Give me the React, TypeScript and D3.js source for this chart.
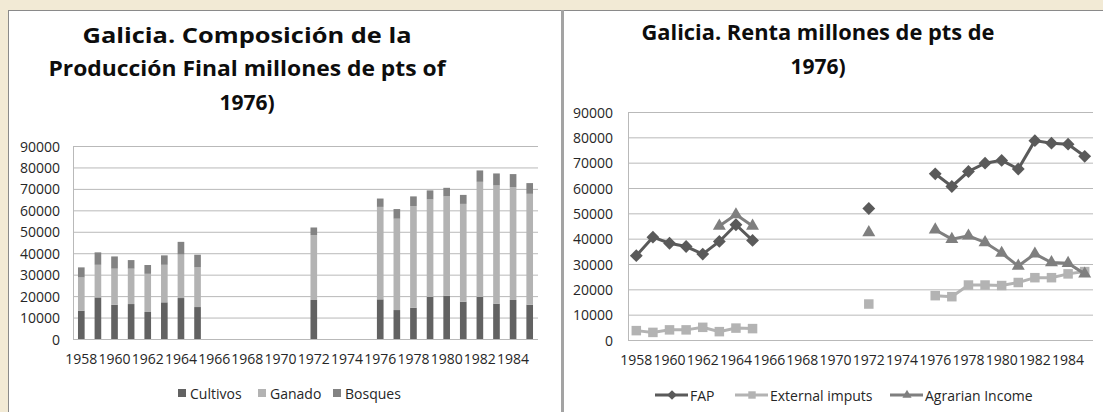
import React from "react";
import * as d3 from "d3";

const years = d3.range(1958, 1986).map(String);
const tickYears = d3.range(1958, 1986, 2).map(String);
const yTicks = d3.range(0, 90001, 10000);

// left chart: stacked parts (millones de pts 1976)
const cultivos = [13200, 19400, 16000, 16300, 12600, 17100, 19100, 14900, null, null, null, null, null, null, 18200, null, null, null, 18500, 13500, 14600, 19600, 20200, 17400, 19600, 16500, 18200, 16000];
const ganado = [15500, 15200, 16800, 16500, 17800, 17500, 20300, 18500, null, null, null, null, null, null, 30200, null, null, null, 43100, 42600, 47400, 45500, 46300, 45600, 53700, 55100, 52600, 51700];
const bosques = [4700, 5800, 5700, 4000, 4100, 4400, 5900, 5900, null, null, null, null, null, null, 3600, null, null, null, 3900, 4500, 4500, 4200, 4000, 4200, 5300, 5600, 6100, 5000];

// right chart: income series
const fap = [33300, 40600, 38200, 36900, 33900, 38900, 45500, 39300, null, null, null, null, null, null, 51900, null, null, null, 65600, 60600, 66500, 69800, 70900, 67500, 78700, 77700, 77300, 72500];
const externalImputs = [3700, 3000, 4000, 4000, 5000, 3300, 4700, 4500, null, null, null, null, null, null, 14200, null, null, null, 17500, 17100, 21700, 21700, 21500, 22700, 24600, 24600, 26100, 27000];
const agrarianIncome = [null, null, null, null, null, 45000, 49500, 45000, null, null, null, null, null, null, 42400, null, null, null, 43500, 39800, 41100, 38500, 34300, 29200, 34000, 30600, 30300, 26100];

const barSeries = [
  { name: "Cultivos", values: cultivos, color: "#626262" },
  { name: "Ganado", values: ganado, color: "#b3b3b3" },
  { name: "Bosques", values: bosques, color: "#838383" },
];

const lineSeries = [
  { name: "FAP", values: fap, color: "#5a5a5a", marker: "diamond" },
  { name: "External imputs", values: externalImputs, color: "#b3b3b3", marker: "square" },
  { name: "Agrarian Income", values: agrarianIncome, color: "#7f7f7f", marker: "triangle" },
];

const FONT = "'Open Sans', 'Liberation Sans', sans-serif";
const GRID = "#b9b9b9";
const TXT = "#262626";

const markerPath = (type: string, size: number) => {
  if (type === "diamond") return d3.symbol(d3.symbolDiamond2, size)();
  if (type === "square") return d3.symbol(d3.symbolSquare2, size)();
  return d3.symbol(d3.symbolTriangle2, size)();
};

const Axes = ({ x, y, labelX, labelY }: any) => {
  const [x0, x1] = x.range();
  const [y0] = y.range();
  return (
    <g fontFamily={FONT} fontSize={14} fill={TXT}>
      {yTicks.map((t) => (
        <g key={t}>
          <line x1={x0} x2={x1} y1={y(t) + 0.5} y2={y(t) + 0.5} stroke={GRID} />
          <text x={labelX} y={y(t)} textAnchor="end" dominantBaseline="central">
            {t}
          </text>
        </g>
      ))}
      <line x1={x0 + 0.5} x2={x0 + 0.5} y1={y(90000)} y2={y0} stroke={GRID} />
      {tickYears.map((yr) => (
        <text key={yr} x={x(yr)! + x.bandwidth() / 2} y={labelY} textAnchor="middle">
          {yr}
        </text>
      ))}
    </g>
  );
};

const App = () => {
  // left chart scales
  const xL = d3.scaleBand().domain(years).range([73, 538]).padding(0);
  const yL = d3.scaleLinear().domain([0, 90000]).range([339, 146]);
  const barW = xL.bandwidth() * 0.4;

  const stacked = years.map((yr, i) => {
    let acc = 0;
    return barSeries.map((s) => {
      const v = s.values[i];
      if (v == null) return null;
      const seg = { yr, y0: acc, y1: acc + v, color: s.color };
      acc += v;
      return seg;
    });
  });

  // right chart scales
  const xR = d3.scaleBand().domain(years).range([628, 1093]).padding(0);
  const yR = d3.scaleLinear().domain([0, 90000]).range([340, 112]);
  const cx = (i: number) => xR(years[i])! + xR.bandwidth() / 2;

  const line = d3
    .line<number | null>()
    .defined((d) => d != null)
    .x((_, i) => cx(i))
    .y((d) => yR(d as number));

  const leftLegend = [
    { x: 178, label: "Cultivos" },
    { x: 258, label: "Ganado" },
    { x: 333, label: "Bosques" },
  ];
  const rightLegend = [655, 735, 890];
  const markerSize = (m: string) => (m === "square" ? 115 : m === "triangle" ? 120 : 105);

  return (
    <svg width={1103} height={412} style={{ position: "absolute", left: 0, top: 0 }}>
      <rect width={1103} height={412} fill="#f2ead5" />
      <rect x={8.5} y={10.5} width={553} height={410} fill="#ffffff" stroke="#8a8a8a" />
      <rect x={562.5} y={10.5} width={560} height={410} fill="#ffffff" stroke="#8a8a8a" />
      <line x1={562.5} x2={562.5} y1={10} y2={412} stroke="#a3a3a3" strokeWidth={3} />

      {/* left title */}
      <g fontFamily={FONT} fontWeight="bold" fontSize={21} fill="#0d0d0d" textAnchor="middle">
        <text x={247} y={43} textLength={329} lengthAdjust="spacingAndGlyphs">
          Galicia. Composición de la
        </text>
        <text x={247} y={76} textLength={397} lengthAdjust="spacingAndGlyphs">
          Producción Final millones de pts of
        </text>
        <text x={247} y={110}>1976)</text>
      </g>
      <Axes x={xL} y={yL} labelX={60} labelY={364} />
      {stacked.map((segs) =>
        segs.map((s, j) =>
          s ? (
            <rect
              key={s.yr + j}
              x={xL(s.yr)! + (xL.bandwidth() - barW) / 2}
              y={yL(s.y1)}
              width={barW}
              height={yL(s.y0) - yL(s.y1)}
              fill={s.color}
            />
          ) : null
        )
      )}
      <g fontFamily={FONT} fontSize={14} fill={TXT}>
        {leftLegend.map((l, i) => (
          <g key={l.label}>
            <rect x={l.x} y={389} width={8} height={8} fill={barSeries[i].color} />
            <text x={l.x + 12} y={393} dominantBaseline="central">
              {l.label}
            </text>
          </g>
        ))}
      </g>

      {/* right title */}
      <g fontFamily={FONT} fontWeight="bold" fontSize={21} fill="#0d0d0d" textAnchor="middle">
        <text x={818} y={40} textLength={353} lengthAdjust="spacingAndGlyphs">
          Galicia. Renta millones de pts de
        </text>
        <text x={818} y={74}>1976)</text>
      </g>
      <Axes x={xR} y={yR} labelX={613} labelY={365} />
      {lineSeries.map((s) => (
        <g key={s.name}>
          <path d={line(s.values) ?? ""} fill="none" stroke={s.color} strokeWidth={3} />
          {s.values.map((v, i) =>
            v == null ? null : (
              <path
                key={i}
                transform={`translate(${cx(i)},${yR(v)})`}
                d={markerPath(s.marker, markerSize(s.marker)) ?? ""}
                fill={s.color}
              />
            )
          )}
        </g>
      ))}
      <g fontFamily={FONT} fontSize={14} fill={TXT}>
        {lineSeries.map((s, i) => (
          <g key={s.name}>
            <line x1={rightLegend[i]} x2={rightLegend[i] + 33} y1={395} y2={395} stroke={s.color} strokeWidth={3} />
            <path
              transform={`translate(${rightLegend[i] + 17},395)`}
              d={markerPath(s.marker, s.marker === "square" ? 70 : 60) ?? ""}
              fill={s.color}
            />
            <text x={rightLegend[i] + 35} y={395} dominantBaseline="central">
              {s.name}
            </text>
          </g>
        ))}
      </g>
    </svg>
  );
};

export default App;
